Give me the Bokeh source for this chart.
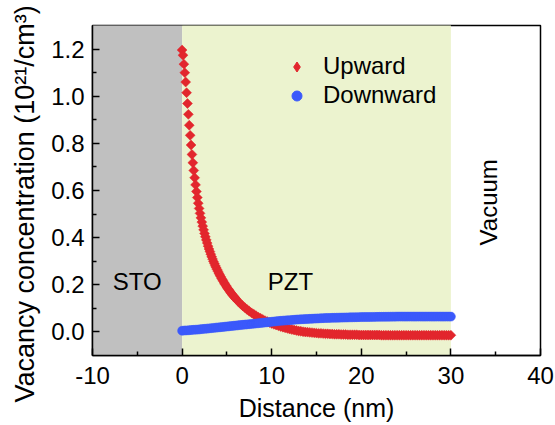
import math
from bokeh.plotting import figure
from bokeh.models import (Range1d, FixedTicker, PrintfTickFormatter, Legend, LegendItem,
                          ColumnDataSource, Title)
from bokeh.core.properties import value
from bokeh.embed import file_html
from bokeh.resources import INLINE

# ---------------- data ----------------
# Upward: sampled every 0.1 nm up to 5.9 nm, then every 0.25 nm up to 30 nm
up_x = [round(0.1 * i, 2) for i in range(60)] + [round(6.0 + 0.25 * i, 2) for i in range(97)]
up_y = [
    1.196, 1.174, 1.136, 1.100, 1.060, 1.015, 0.969, 0.923, 0.877, 0.834,
    0.793, 0.753, 0.718, 0.685, 0.654, 0.624, 0.596, 0.570, 0.546, 0.524,
    0.503, 0.484, 0.466, 0.449, 0.433, 0.418, 0.404, 0.390, 0.377, 0.364,
    0.352, 0.341, 0.330, 0.319, 0.309, 0.299, 0.290, 0.281, 0.273, 0.265,
    0.257, 0.249, 0.242, 0.235, 0.228, 0.221, 0.215, 0.208, 0.202, 0.196,
    0.190, 0.184, 0.179, 0.174, 0.168, 0.163, 0.158, 0.154, 0.149, 0.145,
    0.140, 0.130, 0.120, 0.111, 0.103, 0.095, 0.088, 0.081,
    0.075, 0.069, 0.063, 0.058, 0.053, 0.048, 0.044, 0.040,
    0.036, 0.032, 0.029, 0.026, 0.023, 0.020, 0.017, 0.015,
    0.012, 0.010, 0.008, 0.006, 0.004, 0.003, 0.001, 0.000,
    -0.001, -0.002, -0.003, -0.004, -0.005, -0.006, -0.006, -0.007,
    -0.008, -0.008, -0.009, -0.009, -0.010, -0.010, -0.010, -0.011,
    -0.011, -0.011, -0.012, -0.012, -0.012, -0.012, -0.012, -0.013,
    -0.013,
    -0.013, -0.013, -0.013, -0.013, -0.013, -0.013, -0.013, -0.013,
    -0.014, -0.014, -0.014, -0.014, -0.014, -0.014, -0.014, -0.014,
    -0.014, -0.014, -0.014, -0.014, -0.014, -0.014, -0.014, -0.014,
    -0.014, -0.014, -0.014, -0.014, -0.014, -0.014, -0.014, -0.014,
    -0.014, -0.014, -0.014, -0.014, -0.014, -0.014, -0.014, -0.014,
]

# Downward: sampled every 0.25 nm from 0 to 30 nm
down_x = [round(0.25 * i, 2) for i in range(121)]
down_y = [
    0.005, 0.006, 0.0065, 0.007,
    0.008, 0.0088, 0.0095, 0.010,
    0.011, 0.012, 0.013, 0.014,
    0.015, 0.016, 0.017, 0.018,
    0.019, 0.020, 0.021, 0.022,
    0.023, 0.024, 0.025, 0.026,
    0.027, 0.028, 0.029, 0.030,
    0.031, 0.032, 0.033, 0.034,
    0.035, 0.036, 0.037, 0.038,
    0.039, 0.040, 0.041, 0.042,
    0.043, 0.044, 0.045, 0.046,
    0.047, 0.0478, 0.0485, 0.0493,
    0.050, 0.0508, 0.0515, 0.0523,
    0.053, 0.0535, 0.054, 0.0545,
    0.055, 0.0555, 0.056, 0.0565,
    0.057, 0.0575, 0.058, 0.0585,
    0.059, 0.0593, 0.0595, 0.0598,
    0.060, 0.0603, 0.0605, 0.0608,
    0.061, 0.0613, 0.0615, 0.0618,
    0.062, 0.0623, 0.0625, 0.0628,
    0.063, 0.0631, 0.0633, 0.0634,
    0.0635, 0.0636, 0.0638, 0.0639,
    0.064, 0.0641, 0.0643, 0.0644,
    0.0645, 0.0646, 0.0648, 0.0649,
    0.065, 0.065, 0.065, 0.065,
    0.065, 0.065, 0.065, 0.065,
    0.065, 0.065, 0.065, 0.065,
    0.065, 0.065, 0.065, 0.065,
    0.065, 0.065, 0.065, 0.065,
    0.065, 0.065, 0.065, 0.065,
    0.065,
]

# shaded regions (STO substrate, PZT film)
region_left = [-10, 0]
region_right = [0, 30]
region_color = ["#c0c0c0", "#ecf3cf"]

# region labels
label_text = ["STO", "PZT", "Vacuum"]
label_x = [-5.0, 12.1, 34.2]
label_y = [0.215, 0.215, 0.55]
label_angle = [0.0, 0.0, math.pi / 2]

series_names = ["Upward", "Downward"]

x_ticks = [-10, 0, 10, 20, 30, 40]
x_minor = [-5, 5, 15, 25, 35]
y_ticks = [0.0, 0.2, 0.4, 0.6, 0.8, 1.0, 1.2]
y_minor = [0.1, 0.3, 0.5, 0.7, 0.9, 1.1]

FONT = "Liberation Sans"
RED = "#e2262d"
BLUE = "#3b59fb"
NAN = float("nan")

# ---------------- figure ----------------
p = figure(width=555, height=425, x_range=Range1d(-10, 40), y_range=Range1d(-0.1, 1.3),
           output_backend="svg", toolbar_location=None,
           min_border_left=92, min_border_right=15, min_border_top=25, min_border_bottom=70)
p.xgrid.visible = False
p.ygrid.visible = False
p.outline_line_color = "black"
p.outline_line_width = 1.5
p.background_fill_color = "white"
p.border_fill_color = "white"

reg_src = ColumnDataSource(dict(left=region_left, right=region_right, color=region_color))
p.quad(left="left", right="right", bottom=-1.0, top=2.0, fill_color="color",
       line_color=None, source=reg_src)

r_up = p.scatter(up_x, up_y, marker="square", angle=math.pi / 4, size=7,
                 fill_color=RED, line_color=RED, line_width=0.5)
r_down = p.scatter(down_x, down_y, marker="circle", size=9,
                   fill_color=BLUE, line_color=BLUE, line_width=0.5)

# legend key proxies (a single NaN row each: nothing is drawn in the plot,
# they only provide the legend swatches)
key_up = p.scatter(x=[NAN], y=[NAN], marker="diamond", fill_color=RED, line_color=RED)
key_down = p.scatter(x=[NAN], y=[NAN], marker="circle", fill_color=BLUE, line_color=BLUE)

lab_src = ColumnDataSource(dict(x=label_x, y=label_y, text=label_text, angle=label_angle))
p.text(x="x", y="y", text="text", angle="angle", source=lab_src,
       text_font=value(FONT), text_font_size="24px", text_color="black",
       text_align="center", text_baseline="middle")

# axes
p.xaxis.ticker = FixedTicker(ticks=x_ticks, minor_ticks=x_minor)
p.yaxis.ticker = FixedTicker(ticks=y_ticks, minor_ticks=y_minor)
p.xaxis.formatter = PrintfTickFormatter(format="%d")
p.yaxis.formatter = PrintfTickFormatter(format="%.1f")
p.xaxis.axis_label = "Distance (nm)"
for ax in (p.xaxis[0], p.yaxis[0]):
    ax.axis_line_color = "black"
    ax.axis_line_width = 1.5
    ax.major_tick_in = 7
    ax.major_tick_out = 0
    ax.minor_tick_in = 4
    ax.minor_tick_out = 0
    ax.major_tick_line_width = 1.5
    ax.minor_tick_line_width = 1.5
    ax.major_tick_line_color = "black"
    ax.minor_tick_line_color = "black"
    ax.major_label_text_font = FONT
    ax.major_label_text_font_size = "24px"
    ax.major_label_text_color = "black"
    ax.axis_label_text_font = FONT
    ax.axis_label_text_font_size = "25px"
    ax.axis_label_text_font_style = "normal"
    ax.axis_label_text_color = "black"
p.xaxis.major_label_standoff = 11
p.xaxis.axis_label_standoff = 7
p.yaxis.major_label_standoff = 8

# y-axis title (as a side title so that it can start near the bottom like the original)
ytitle = Title(text="Vacancy concentration (10²¹/cm³)", align="left", offset=-47,
               vertical_align="middle", standoff=15,
               text_font=FONT, text_font_size="27px", text_font_style="normal",
               text_color="black")
p.add_layout(ytitle, "left")

legend = Legend(items=[LegendItem(label=series_names[0], renderers=[key_up]),
                       LegendItem(label=series_names[1], renderers=[key_down])],
                location=(192, 246), glyph_width=25, glyph_height=25, label_height=20,
                label_standoff=14, spacing=1, padding=0, margin=0,
                background_fill_alpha=0, border_line_alpha=0,
                label_text_font=FONT, label_text_font_size="24px", label_text_color="black")
p.add_layout(legend)

open("out.html", "w").write(file_html(p, INLINE))
